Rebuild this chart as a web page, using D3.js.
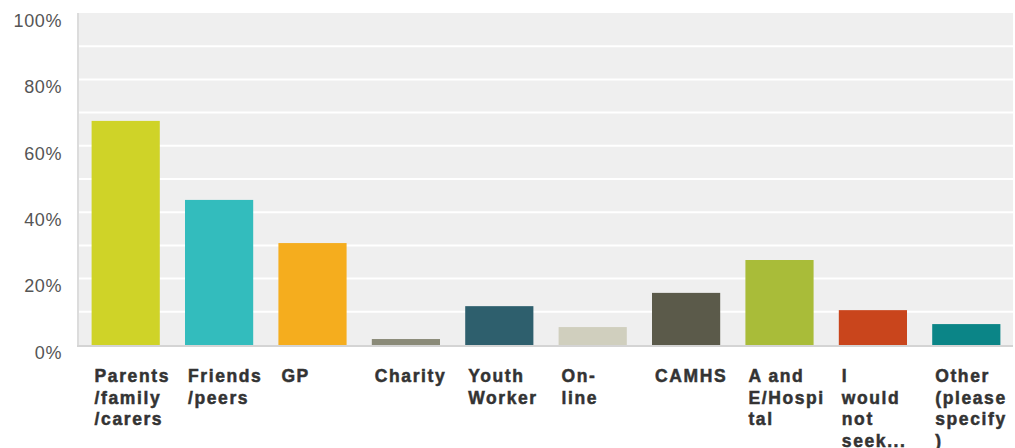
<!DOCTYPE html>
<html>
<head>
<meta charset="utf-8">
<script src="https://cdn.jsdelivr.net/npm/d3@7"></script>
<style>
  html, body { margin: 0; padding: 0; background: #fff; }
  svg { display: block; }
</style>
</head>
<body>
<svg id="chart" width="1015" height="448"></svg>
<script>
// Where young people would go for help (share of respondents)
const categories = [
  "Parents/family/carers", "Friends/peers", "GP", "Charity", "Youth Worker",
  "On-line", "CAMHS", "A and E/Hospital", "I would not seek...", "Other (please specify)"
];
const labelLines = [
  ["Parents", "/family", "/carers"],
  ["Friends", "/peers"],
  ["GP"],
  ["Charity"],
  ["Youth", "Worker"],
  ["On-", "line"],
  ["CAMHS"],
  ["A and", "E/Hospi", "tal"],
  ["I", "would", "not", "seek..."],
  ["Other", "(please", "specify", ")"]
];
const values = [0.675, 0.437, 0.307, 0.018, 0.117, 0.054, 0.157, 0.256, 0.105, 0.063];
const colors = ["#cfd328", "#33bcbd", "#f5ad1e", "#8b8b79", "#2e5f6d",
                "#d0cfbe", "#5b5a4a", "#a9bc39", "#c9451c", "#0b8587"];
const yTicks = [0, 0.2, 0.4, 0.6, 0.8, 1.0];
const gridTicks = [0.1, 0.2, 0.3, 0.4, 0.5, 0.6, 0.7, 0.8, 0.9];

const svg = d3.select("#chart");
const margin = { left: 79, right: 2, top: 13, bottom: 103 };
const W = 1015, H = 448;
const font = "'Liberation Sans', Arial, sans-serif";

const x = d3.scaleBand()
  .domain(categories)
  .range([margin.left, W - margin.right])
  .paddingInner(0.27)
  .paddingOuter(0.135);

const y = d3.scaleLinear().domain([0, 1]).range([H - margin.bottom, margin.top]);

// plot background
svg.append("rect")
  .attr("x", margin.left).attr("y", y(1))
  .attr("width", W - margin.right - margin.left)
  .attr("height", y(0) - y(1))
  .attr("fill", "#efefef");

// white gridlines every 10%
svg.append("g").selectAll("line").data(gridTicks).join("line")
  .attr("x1", margin.left).attr("x2", W - margin.right)
  .attr("y1", d => y(d)).attr("y2", d => y(d))
  .attr("stroke", "#ffffff").attr("stroke-width", 2);

// left axis rule
svg.append("line")
  .attr("x1", margin.left - 1).attr("x2", margin.left - 1)
  .attr("y1", y(1)).attr("y2", y(0))
  .attr("stroke", "#dcdcdc").attr("stroke-width", 2);

// y axis labels
const yAxis = d3.axisLeft(y).tickValues(yTicks).tickFormat(d3.format(".0%")).tickSize(0).tickPadding(17);
const ga = svg.append("g").attr("transform", `translate(${margin.left},0)`).call(yAxis);
ga.select(".domain").remove();
ga.selectAll(".tick text")
  .attr("y", 7)
  .attr("dy", "0.35em")
  .attr("fill", "#555")
  .style("font-family", font)
  .style("font-size", "18px")
  .style("letter-spacing", "0.6px");

// bars
svg.append("g").selectAll("rect").data(categories).join("rect")
  .attr("x", d => x(d))
  .attr("width", x.bandwidth())
  .attr("y", (d, i) => y(values[i]))
  .attr("height", (d, i) => y(0) - y(values[i]))
  .attr("fill", (d, i) => colors[i]);

// baseline
svg.append("line")
  .attr("x1", margin.left - 2).attr("x2", W - margin.right)
  .attr("y1", y(0) + 1).attr("y2", y(0) + 1)
  .attr("stroke", "#d4d4d4").attr("stroke-width", 2);

// category labels, wrapped
const lab = svg.append("g").selectAll("text").data(categories).join("text")
  .attr("x", d => x(d) + 3)
  .attr("y", y(0) + 37)
  .attr("fill", "#333")
  .attr("stroke", "#333")
  .attr("stroke-width", 0.5)
  .style("font-family", font)
  .style("font-size", "17.5px")
  .style("font-weight", "bold")
  .style("letter-spacing", "1.6px");
lab.each(function(d, i) {
  const t = d3.select(this);
  labelLines[i].forEach((s, k) => {
    t.append("tspan").attr("x", x(d) + 3).attr("dy", k === 0 ? 0 : 21.5).text(s);
  });
});
</script>
</body>
</html>
